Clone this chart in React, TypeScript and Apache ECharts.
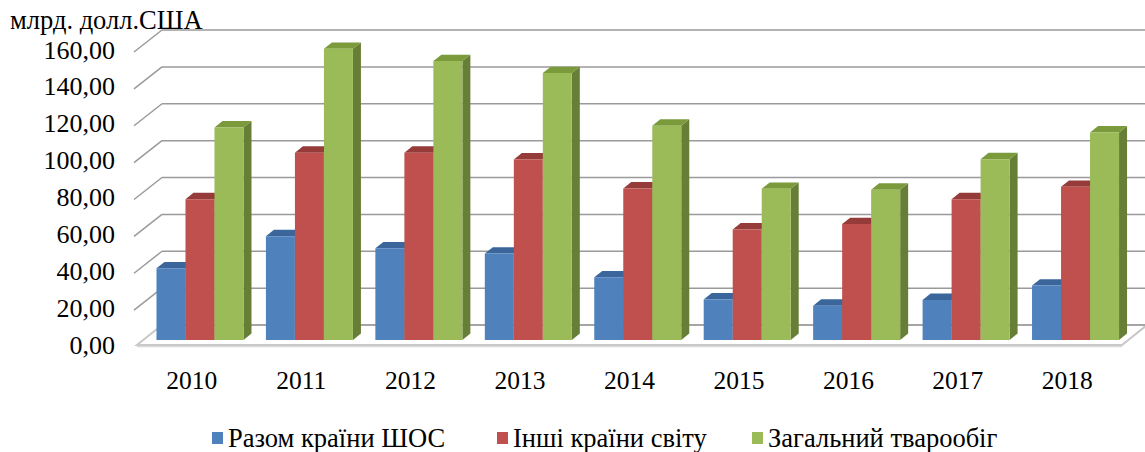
import React, { useEffect, useRef } from "react";
import * as echarts from "echarts";

const categories = ["2010", "2011", "2012", "2013", "2014", "2015", "2016", "2017", "2018"];
const scoValues = [38.9, 56.3, 49.7, 46.9, 34.0, 22.0, 18.6, 21.7, 29.5];
const otherValues = [76.4, 101.6, 101.6, 97.9, 82.2, 60.0, 62.9, 76.4, 83.1];
const totalValues = [115.3, 157.9, 151.3, 144.8, 116.2, 82.0, 81.5, 98.1, 112.6];
const yTicks = [0, 20, 40, 60, 80, 100, 120, 140, 160];
const seriesNames = ["Разом країни ШОС", "Інші країни світу", "Загальний тварообіг"];

const FONT = "Times New Roman, Liberation Serif, serif";
const COLORS = [
  { front: "#4F81BD", top: "#3A669C", side: "#385D8A" },
  { front: "#C0504D", top: "#953B39", side: "#8C3836" },
  { front: "#9BBB59", top: "#7A9A3C", side: "#677E36" },
];
const LEGEND_X = [212, 497, 752];
const WALL_DX = 25;
const WALL_DY = -20;
const BAR_START = 0.25;
const BAR_DEPTH = 0.32;

function barSeries(name: string, values: number[], s: number) {
  const c = COLORS[s];
  return {
    type: "custom",
    name,
    itemStyle: { color: c.front },
    data: values.map((v, i) => [i, v]),
    renderItem: (params: any, api: any) => {
      const i = api.value(0);
      const v = api.value(1);
      const base = api.coord([i, 0]);
      const top = api.coord([i, v]);
      const w = api.size([1, 0])[0];
      const bw = 0.265 * w;
      const sy = WALL_DY * BAR_START;
      const left = base[0] - 0.322 * w + s * bw;
      const by = base[1] + sy;
      const ty = top[1] + sy;
      const ddx = WALL_DX * BAR_DEPTH;
      const ddy = WALL_DY * BAR_DEPTH;
      return {
        type: "group",
        children: [
          {
            type: "polygon",
            shape: {
              points: [
                [left + bw, ty],
                [left + bw + ddx, ty + ddy],
                [left + bw + ddx, by + ddy],
                [left + bw, by],
              ],
            },
            style: { fill: c.side },
          },
          {
            type: "polygon",
            shape: {
              points: [
                [left, ty],
                [left + ddx, ty + ddy],
                [left + bw + ddx, ty + ddy],
                [left + bw, ty],
              ],
            },
            style: { fill: c.top },
          },
          {
            type: "rect",
            shape: { x: left, y: ty, width: bw, height: by - ty },
            style: { fill: c.front },
          },
        ],
      };
    },
  };
}

export default function App() {
  const ref = useRef<HTMLDivElement>(null);
  useEffect(() => {
    if (!ref.current) return;
    const chart = echarts.init(ref.current, null, { renderer: "svg" });
    const legendGraphics = seriesNames.map((name, k) => ({
      type: "group",
      x: LEGEND_X[k],
      y: 438,
      children: [
        { type: "rect", shape: { x: 0, y: -6, width: 11, height: 12 }, style: { fill: COLORS[k].front } },
        {
          type: "text",
          x: 16,
          y: 0,
          style: {
            text: name,
            fontFamily: FONT,
            fontSize: 26.5,
            fill: "#000",
            align: "left",
            verticalAlign: "middle",
          },
        },
      ],
    }));
    chart.setOption({
      animation: false,
      backgroundColor: "#ffffff",
      title: {
        text: "млрд. долл.США",
        left: 10,
        top: 6,
        padding: 0,
        textStyle: { fontFamily: FONT, fontSize: 26.5, fontWeight: "normal", color: "#000" },
      },
      graphic: legendGraphics,
      grid: { left: 137, right: 23, top: 50, bottom: 107, containLabel: false },
      xAxis: {
        type: "category",
        data: categories,
        axisLine: { show: false },
        axisTick: { show: false },
        splitLine: { show: false },
        axisLabel: { margin: 22, fontFamily: FONT, fontSize: 25.5, color: "#000" },
      },
      yAxis: {
        type: "value",
        min: 0,
        max: 160,
        interval: 20,
        axisLine: { show: false },
        axisTick: { show: false },
        splitLine: { show: false },
        axisLabel: {
          margin: 22,
          fontFamily: FONT,
          fontSize: 26,
          color: "#000",
          formatter: (v: number) => v.toFixed(2).replace(".", ","),
        },
      },
      series: [
        {
          type: "custom",
          name: "walls",
          silent: true,
          data: yTicks.map((v) => [0, v]),
          renderItem: (params: any, api: any) => {
            const v = api.value(1);
            const cs = params.coordSys;
            const gx = cs.x;
            const gw = cs.width;
            const y = api.coord([0, v])[1];
            const children: any[] = [];
            if (v === 0) {
              children.push({
                type: "polygon",
                shape: {
                  points: [
                    [gx, y],
                    [gx + gw, y],
                    [gx + gw + WALL_DX, y + WALL_DY],
                    [gx + WALL_DX, y + WALL_DY],
                  ],
                },
                style: { fill: "#ffffff", stroke: "#c8c8c8", lineWidth: 2 },
              });
              children.push({
                type: "line",
                shape: { x1: gx, y1: y + 1.5, x2: gx + gw, y2: y + 1.5 },
                style: { stroke: "#d8d8d8", lineWidth: 1.5 },
              });
            } else {
              children.push({
                type: "line",
                shape: { x1: gx - 3, y1: y + 2, x2: gx + WALL_DX, y2: y + WALL_DY },
                style: { stroke: "#9a9a9a", lineWidth: 1.5 },
              });
            }
            children.push({
              type: "line",
              shape: { x1: gx + WALL_DX, y1: y + WALL_DY, x2: gx + gw + WALL_DX, y2: y + WALL_DY },
              style: { stroke: "#9a9a9a", lineWidth: 1.5 },
            });
            return { type: "group", children };
          },
          z: 1,
        },
        { ...barSeries(seriesNames[0], scoValues, 0), z: 2 },
        { ...barSeries(seriesNames[1], otherValues, 1), z: 2 },
        { ...barSeries(seriesNames[2], totalValues, 2), z: 2 },
      ],
    });
    return () => chart.dispose();
  }, []);
  return (
    <div
      ref={ref}
      style={{ position: "absolute", left: 0, top: 0, width: 1145, height: 452 }}
    />
  );
}
